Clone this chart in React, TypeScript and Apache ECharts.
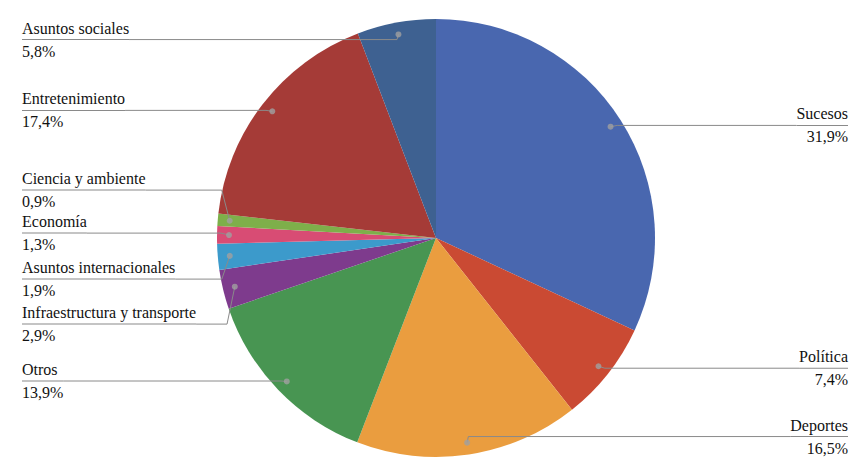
import React, { useEffect, useRef } from "react";
import * as echarts from "echarts";

const categories = [
  "Sucesos",
  "Política",
  "Deportes",
  "Otros",
  "Infraestructura y transporte",
  "Asuntos internacionales",
  "Economía",
  "Ciencia y ambiente",
  "Entretenimiento",
  "Asuntos sociales",
];
const values = [31.9, 7.4, 16.5, 13.9, 2.9, 1.9, 1.3, 0.9, 17.4, 5.8];
const colors = [
  "#4967AF",
  "#CA4A33",
  "#EA9D3F",
  "#489552",
  "#7E3B8D",
  "#3C9ACB",
  "#D84C74",
  "#7EAF4A",
  "#A53B37",
  "#3E6191",
];

const fmt = (v: number) => v.toFixed(1).replace(".", ",") + "%";
const FONT = "'Liberation Serif', 'Times New Roman', serif";

// vertical nudges of the labels (layout tweak, in px), by category order
const labelNudge = [3, -3, -14, -6, -19, -23, -28, -30, 4, 13];

export default function App() {
  const ref = useRef<HTMLDivElement>(null);
  useEffect(() => {
    if (!ref.current) return;
    const chart = echarts.init(ref.current, undefined, { renderer: "svg" });
    const total = values.reduce((a, b) => a + b, 0);
    let cum = 0;
    const mids: number[] = values.map((v) => {
      const m = ((cum + v / 2) / total) * 100;
      cum += v;
      return m;
    });
    const textStyle = {
      fontFamily: FONT,
      fontSize: 16,
      color: "#111",
    };
    chart.setOption({
      animation: false,
      backgroundColor: "#fff",
      textStyle: { fontFamily: FONT },
      polar: { center: [436, 238], radius: 219 },
      angleAxis: {
        type: "value",
        min: 0,
        max: 100,
        startAngle: 90,
        clockwise: true,
        show: false,
      },
      radiusAxis: { type: "value", min: 0, max: 219, show: false },
      series: [
        {
          type: "pie",
          left: 22,
          right: 16,
          top: 0,
          bottom: 0,
          center: [414, 238],
          radius: 219,
          startAngle: 90,
          clockwise: true,
          label: { show: false },
          labelLine: { show: false },
          silent: true,
          itemStyle: { borderWidth: 0 },
          data: categories.map((c, i) => ({
            name: c,
            value: values[i],
            itemStyle: { color: colors[i] },
          })),
          z: 1,
        },
        {
          type: "pie",
          left: 22,
          right: 16,
          top: 0,
          bottom: 0,
          center: [414, 238],
          radius: 207,
          startAngle: 90,
          clockwise: true,
          silent: true,
          itemStyle: { color: "rgba(0,0,0,0)", borderWidth: 0 },
          label: {
            show: true,
            position: "outside",
            alignTo: "edge",
            edgeDistance: 0,
            distanceToLabelLine: 0,
            fontFamily: FONT,
            fontSize: 16,
            color: "#111",
            formatter: (p: any) =>
              "{n|" + p.name + "}\n{hr|}\n{p|" + fmt(p.value) + "}",
            rich: {
              n: { ...textStyle, lineHeight: 22 },
              p: { ...textStyle, lineHeight: 22 },
              hr: {
                width: "100%",
                height: 1,
                lineHeight: 1,
                backgroundColor: "#8a8a8a",
              },
            },
          },
          labelLine: {
            show: true,
            length: 8,
            length2: 2,
            smooth: false,
            lineStyle: { color: "#8a8a8a", width: 1 },
          },
          labelLayout: (params: any) => {
            const dy = labelNudge[params.dataIndex] || 0;
            const out: any = { dy };
            const pts = params.labelLinePoints;
            if (pts && pts.length === 3) {
              out.labelLinePoints = [
                [pts[0][0], pts[0][1]],
                [pts[1][0], pts[1][1] + dy],
                [pts[2][0], pts[2][1] + dy],
              ];
            }
            return out;
          },
          data: categories.map((c, i) => ({ name: c, value: values[i] })),
          z: 2,
        },
        {
          type: "scatter",
          coordinateSystem: "polar",
          symbol: "circle",
          symbolSize: 6,
          silent: true,
          itemStyle: { color: "#a0a0a0" },
          data: mids.map((m) => [207, m]),
          z: 3,
        },
      ],
    });
    return () => chart.dispose();
  }, []);
  return (
    <div
      ref={ref}
      style={{ position: "fixed", left: 0, top: 0, width: 864, height: 475 }}
    />
  );
}
